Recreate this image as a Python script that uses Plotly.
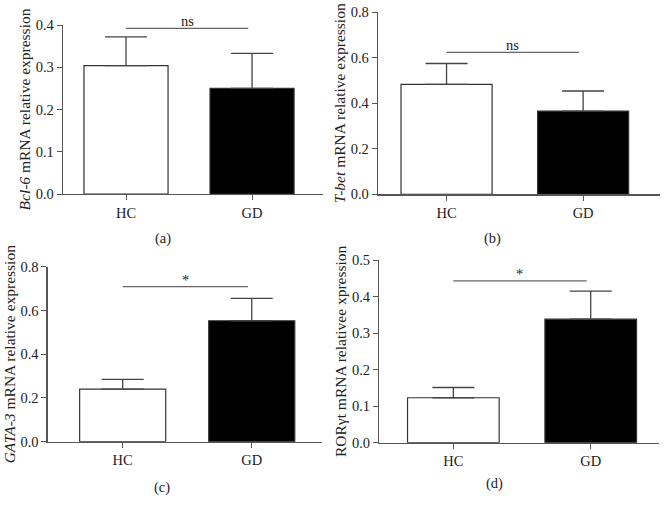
import plotly.graph_objects as go

W, H = 667, 511

groups = ["HC", "GD"]
bcl6_mean = [0.304, 0.250]
bcl6_err = [0.068, 0.083]
tbet_mean = [0.483, 0.366]
tbet_err = [0.092, 0.088]
gata3_mean = [0.240, 0.553]
gata3_err = [0.045, 0.102]
roryt_mean = [0.123, 0.338]
roryt_err = [0.028, 0.077]

panels = [
    dict(mean=bcl6_mean, err=bcl6_err, title="<i>Bcl-6</i> mRNA relative expression",
         ymax=0.4, dtick=0.1, sig="ns", sig_y=0.392, label="(a)",
         px=(63, 323), py=(25, 194), xr=(-0.5, 1.563), cap=(163, 238)),
    dict(mean=tbet_mean, err=tbet_err, title="<i>T-bet</i> mRNA relative expression",
         ymax=0.8, dtick=0.2, sig="ns", sig_y=0.624, label="(b)",
         px=(378, 660), py=(12.3, 194.3), xr=(-0.502, 1.563), cap=(493, 238)),
    dict(mean=gata3_mean, err=gata3_err, title="<i>GATA-3</i> mRNA relative expression",
         ymax=0.8, dtick=0.2, sig="*", sig_y=0.709, label="(c)",
         px=(47.7, 321.7), py=(266.7, 441.7), xr=(-0.581, 1.542), cap=(162, 487)),
    dict(mean=roryt_mean, err=roryt_err, title="RORγt mRNA relativee xpression",
         ymax=0.5, dtick=0.1, sig="*", sig_y=0.443, label="(d)",
         px=(379.3, 659), py=(260, 442.7), xr=(-0.539, 1.497), cap=(494, 483)),
]

FONT = "Liberation Serif"
FS = 14.5
TFS = 15.5
AX = "#555555"
TXT = "#222222"

fig = go.Figure()
layout = dict(width=W, height=H, margin=dict(l=0, r=0, t=0, b=0, autoexpand=False),
              paper_bgcolor="white", plot_bgcolor="white", showlegend=False,
              hovermode=False,
              font=dict(family=FONT, size=FS, color=TXT))
shapes, annotations = [], []

for i, p in enumerate(panels, start=1):
    xa = "x" if i == 1 else f"x{i}"
    ya = "y" if i == 1 else f"y{i}"
    fig.add_trace(go.Bar(
        x=groups, y=p["mean"], xaxis=xa, yaxis=ya, width=0.667,
        marker=dict(color=["white", "black"], line=dict(color="#333333", width=1.2)),
        error_y=dict(type="data", array=p["err"], arrayminus=[0, 0], symmetric=False,
                     color="#444444", thickness=1.3, width=21),
    ))
    xk = "xaxis" if i == 1 else f"xaxis{i}"
    yk = "yaxis" if i == 1 else f"yaxis{i}"
    layout[xk] = dict(domain=[p["px"][0] / W, p["px"][1] / W], anchor=ya,
                      range=list(p["xr"]), showline=True, linecolor=AX, linewidth=1.3,
                      ticks="outside", ticklen=5, tickcolor=AX, showgrid=False,
                      zeroline=False, automargin=False,
                      tickfont=dict(size=FS, family=FONT, color=TXT),
                      fixedrange=True)
    layout[yk] = dict(domain=[1 - p["py"][1] / H, 1 - p["py"][0] / H], anchor=xa,
                      range=[0, p["ymax"]], dtick=p["dtick"], tickformat=".1f",
                      showline=True, linecolor=AX, linewidth=1.3, ticks="outside",
                      ticklen=5, tickcolor=AX, showgrid=False, zeroline=False,
                      automargin=False,
                      tickfont=dict(size=FS, family=FONT, color=TXT),
                      title=dict(text=p["title"], font=dict(size=TFS, family=FONT, color=TXT),
                                 standoff=1),
                      fixedrange=True)
    shapes.append(dict(type="line", xref=xa, yref=ya, x0=0, x1=0.97,
                       y0=p["sig_y"], y1=p["sig_y"], line=dict(color="#666666", width=1.4)))
    annotations.append(dict(xref=xa, yref=ya, x=0.485, y=p["sig_y"], text=p["sig"],
                            showarrow=False, yanchor="bottom", yshift=-3,
                            font=dict(size=FS, family=FONT, color=TXT)))
    annotations.append(dict(xref="paper", yref="paper", x=p["cap"][0] / W,
                            y=1 - p["cap"][1] / H, text=p["label"], showarrow=False,
                            xanchor="center", yanchor="middle",
                            font=dict(size=FS, family=FONT, color=TXT)))

layout["shapes"] = shapes
layout["annotations"] = annotations
fig.update_layout(**layout)
fig.write_html("out.html", config={"displayModeBar": False, "staticPlot": True},
               post_script="document.body.style.margin='0';document.body.style.overflow='hidden';")
